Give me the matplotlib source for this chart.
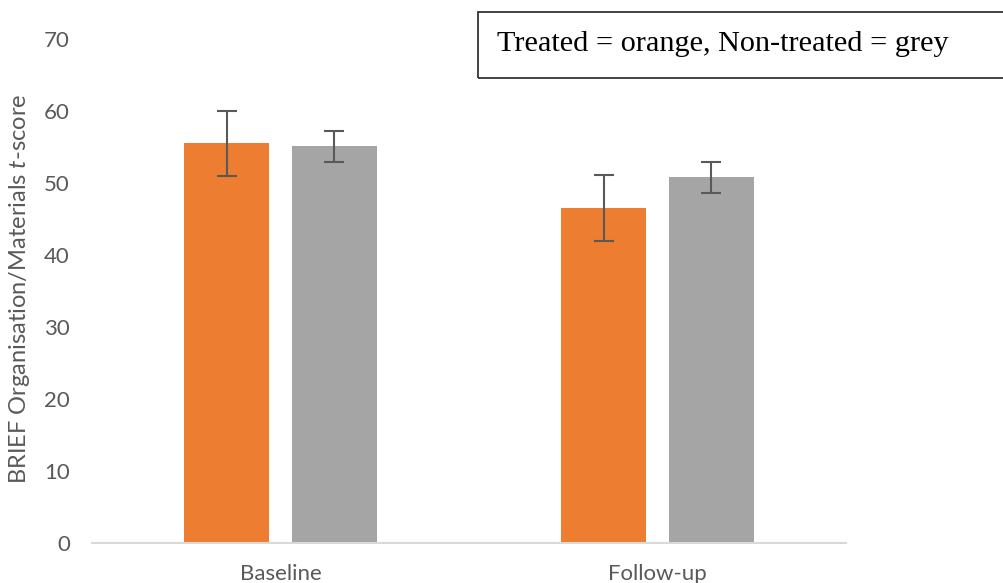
import matplotlib
matplotlib.use('Agg')
import numpy as np
import matplotlib.pyplot as plt
from matplotlib.patches import Rectangle

plt.rcParams['font.family'] = 'Lato'
plt.rcParams['mathtext.fontset'] = 'custom'
plt.rcParams['mathtext.rm'] = 'Lato'
plt.rcParams['mathtext.it'] = 'Lato:italic'

categories = ['Baseline', 'Follow-up']
treated = [55.5, 46.5]
treated_err = [4.55, 4.55]
untreated = [55.1, 50.8]
untreated_err = [2.15, 2.15]
yticks = [0, 10, 20, 30, 40, 50, 60, 70]

ORANGE = '#ED7D31'
GREY = '#A5A5A5'
TXT = '#595959'

fig = plt.figure(figsize=(10.04, 5.83), dpi=100)
ax = fig.add_axes([92 / 1004, 1 - 543 / 583, 754 / 1004, 504 / 583])

x = np.arange(len(categories))
w = 0.225
off = 0.143
err_kw = dict(ecolor='#595959', elinewidth=1.5, capsize=7.5, capthick=1.5)
ax.bar(x - off, treated, w, yerr=treated_err, color=ORANGE, error_kw=err_kw, zorder=2)
ax.bar(x + off, untreated, w, yerr=untreated_err, color=GREY, error_kw=err_kw, zorder=2)

ax.set_xlim(-0.5, 1.5)
ax.set_ylim(0, 70)
ax.set_yticks(yticks)
ax.set_xticks(x)
ax.set_xticklabels(categories, fontsize=16, color=TXT)
ax.tick_params(axis='y', length=0, labelsize=16, labelcolor=TXT, pad=16)
ax.tick_params(axis='x', length=0, pad=15)
for s in ['top', 'right', 'left']:
    ax.spines[s].set_visible(False)
ax.spines['bottom'].set_color('#D9D9D9')
ax.spines['bottom'].set_linewidth(1.5)

ax.set_ylabel(r'BRIEF Organisation/Materials $t$-score', fontsize=17, color=TXT)
ax.yaxis.set_label_coords(-0.08, 0.505)

# legend-like note box
fig.patches.append(Rectangle((478 / 1004, 1 - 78 / 583), 0.6, 66 / 583,
                             transform=fig.transFigure, fill=False,
                             edgecolor='#222222', linewidth=1.2))
fig.text(497 / 1004, 1 - 44 / 583, 'Treated = orange, Non-treated = grey',
         family='Liberation Serif', fontsize=21.8, color='black', va='center', ha='left')

fig.savefig('out.png', dpi=100, facecolor='white')
